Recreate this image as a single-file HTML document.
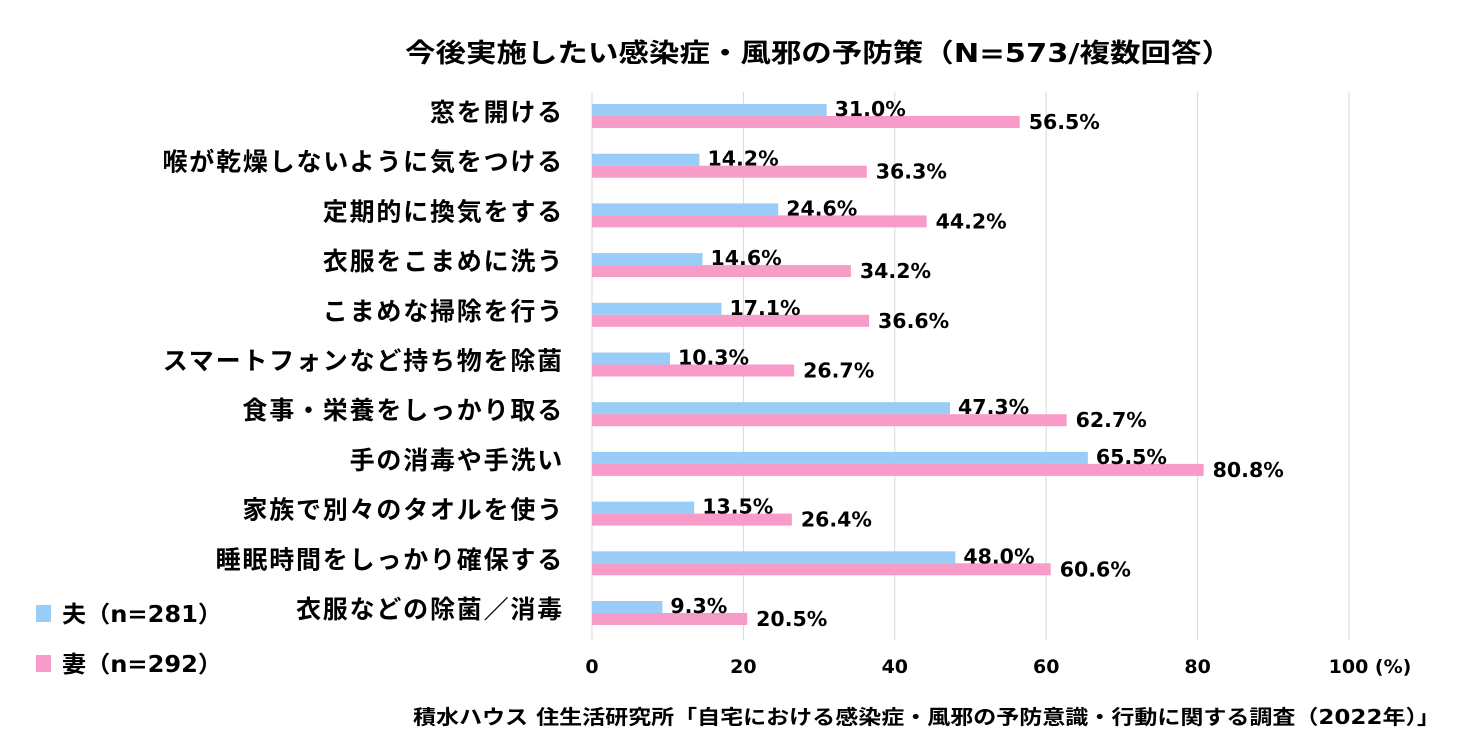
<!DOCTYPE html>
<html><head><meta charset="utf-8"><style>
body{margin:0;background:#fff}
svg text{font-family:"DejaVu Sans","Noto Sans CJK JP",sans-serif;font-weight:bold;fill:#000}
</style></head><body>
<svg width="1484" height="746" xmlns="http://www.w3.org/2000/svg">
<rect width="1484" height="746" fill="#fff"/>
<text x="405" y="62" font-size="26" textLength="827" lengthAdjust="spacingAndGlyphs">今後実施したい感染症・風邪の予防策（N=573/複数回答）</text>
<g stroke="#d9d9d9" stroke-width="1">
<line x1="592" y1="92" x2="592" y2="640"/>
<line x1="743.4" y1="92" x2="743.4" y2="640"/>
<line x1="894.8" y1="92" x2="894.8" y2="640"/>
<line x1="1046.2" y1="92" x2="1046.2" y2="640"/>
<line x1="1197.6" y1="92" x2="1197.6" y2="640"/>
<line x1="1349" y1="92" x2="1349" y2="640"/>
</g>
<g font-size="19" text-anchor="middle">
<text x="592" y="673">0</text><text x="743.4" y="673">20</text><text x="894.8" y="673">40</text><text x="1046.2" y="673">60</text><text x="1197.6" y="673">80</text><text x="1370" y="673">100 (%)</text>
</g>
<g id="rows" font-size="20.5"></g>
<g font-size="25" text-anchor="end" id="cats" letter-spacing="1.8"></g>
<rect x="36" y="605" width="15" height="17" fill="#99CCF7"/>
<text x="62" y="622" font-size="23" textLength="160" lengthAdjust="spacingAndGlyphs">夫（n=281）</text>
<rect x="36" y="655" width="15" height="17" fill="#F79BC9"/>
<text x="62" y="672" font-size="23" textLength="160" lengthAdjust="spacingAndGlyphs">妻（n=292）</text>
<text x="413" y="724" font-size="20" textLength="1027" lengthAdjust="spacingAndGlyphs">積水ハウス 住生活研究所「自宅における感染症・風邪の予防意識・行動に関する調査（2022年）」</text>
<script>
var d=[["窓を開ける",31.0,56.5],["喉が乾燥しないように気をつける",14.2,36.3],["定期的に換気をする",24.6,44.2],["衣服をこまめに洗う",14.6,34.2],["こまめな掃除を行う",17.1,36.6],["スマートフォンなど持ち物を除菌",10.3,26.7],["食事・栄養をしっかり取る",47.3,62.7],["手の消毒や手洗い",65.5,80.8],["家族で別々のタオルを使う",13.5,26.4],["睡眠時間をしっかり確保する",48.0,60.6],["衣服などの除菌／消毒",9.3,20.5]];
var ns="http://www.w3.org/2000/svg",r=document.getElementById("rows"),c=document.getElementById("cats");
function el(p,t,a,s){var e=document.createElementNS(ns,t);for(var k in a)e.setAttribute(k,a[k]);if(s)e.textContent=s;p.appendChild(e);}
d.forEach(function(v,i){var y=104+49.7*i,k=7.57;
el(r,"rect",{x:592,y:y,width:v[1]*k,height:12,fill:"#99CCF7"});
el(r,"rect",{x:592,y:y+12,width:v[2]*k,height:12,fill:"#F79BC9"});
el(r,"text",{x:592+v[1]*k+8,y:y+12},v[1].toFixed(1)+"%");
el(r,"text",{x:592+v[2]*k+9,y:y+25},v[2].toFixed(1)+"%");
el(c,"text",{x:564,y:y+17},v[0]);});
</script>
</svg>
</body></html>
